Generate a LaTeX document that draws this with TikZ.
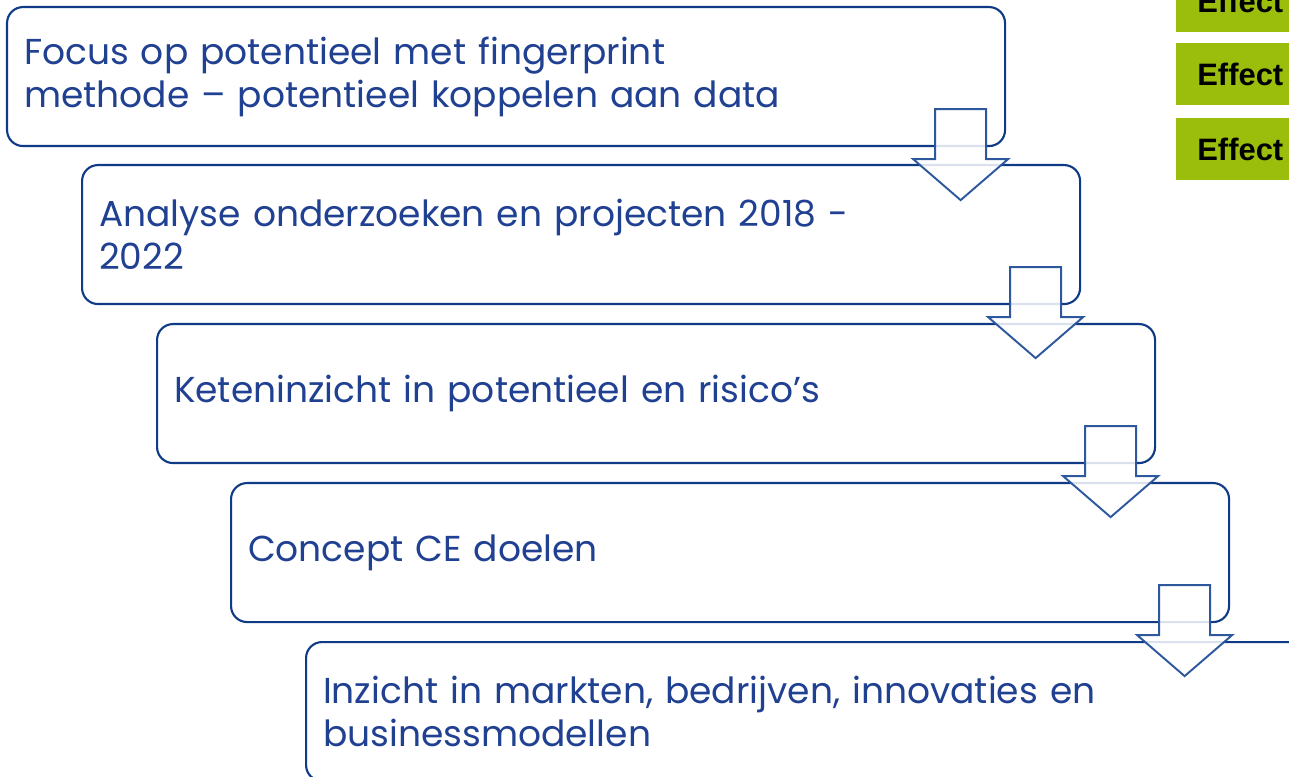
\documentclass[tikz,border=0pt]{standalone}
\usepackage{fontspec}
\setmainfont{Poppins}
\newfontfamily\arialfont{Liberation Sans}
\usetikzlibrary{calc}

\definecolor{stepline}{RGB}{14,58,134}
\definecolor{steptext}{RGB}{32,64,146}
\definecolor{arrowline}{RGB}{46,88,158}
\definecolor{effectgreen}{RGB}{155,189,12}

\tikzset{
	stepbox/.style={draw=stepline, line width=1.2pt, rounded corners=0.32cm, fill=white,
		minimum width=19.96cm, minimum height=2.78cm, inner xsep=0.34cm, inner ysep=0pt,
		text width=19.28cm, align=left, anchor=north west, text=steptext,
		font=\fontsize{20.5}{24.5}\selectfont},
	effectbox/.style={fill=effectgreen, minimum width=2.6cm, minimum height=1.24cm,
		inner xsep=0.42cm, text width=1.76cm, align=left, anchor=west,
		font=\arialfont\bfseries\fontsize{17.6}{20}\selectfont},
	downarrow/.style={draw=arrowline, line width=1.1pt, fill=white, fill opacity=0.85,
		draw opacity=1, line join=miter}
}

\begin{document}
\begin{tikzpicture}
	\useasboundingbox (0,0) rectangle (25.78,-15.54);
	\clip (0,0) rectangle (25.78,-15.54);
	
	%Effect labels
	\node[effectbox] (e1) at (23.52,-0.02) {Effect};
	\node[effectbox] (e2) at (23.52,-1.48) {Effect};
	\node[effectbox] (e3) at (23.52,-2.98) {Effect};
	
	%Steps
	\node[stepbox] (s1) at (0.12,-0.12) {Focus op potentieel met fingerprint\\methode -- potentieel koppelen aan data};
	\node[stepbox] (s2) at (1.62,-3.28) {Analyse onderzoeken en projecten 2018 -\\2022};
	\node[stepbox] (s3) at (3.12,-6.46) {Keteninzicht in potentieel en risico’s};
	\node[stepbox] (s4) at (4.60,-9.64) {Concept CE doelen};
	\node[stepbox] (s5) at (6.10,-12.82) {Inzicht in markten, bedrijven, innovaties en\\businessmodellen};
	
	%Arrows between steps
	\foreach \s in {s1,s2,s3,s4}{
		\coordinate (a) at ($(\s.south east)+(-0.91,0)$);
		\draw[downarrow] ($(a)+(-0.51,0.76)$) -- ($(a)+(0.51,0.76)$) -- ($(a)+(0.51,-0.24)$)
			-- ($(a)+(0.95,-0.24)$) -- ($(a)+(0,-1.06)$) -- ($(a)+(-0.95,-0.24)$)
			-- ($(a)+(-0.51,-0.24)$) -- cycle;
	}
\end{tikzpicture}
\end{document}
